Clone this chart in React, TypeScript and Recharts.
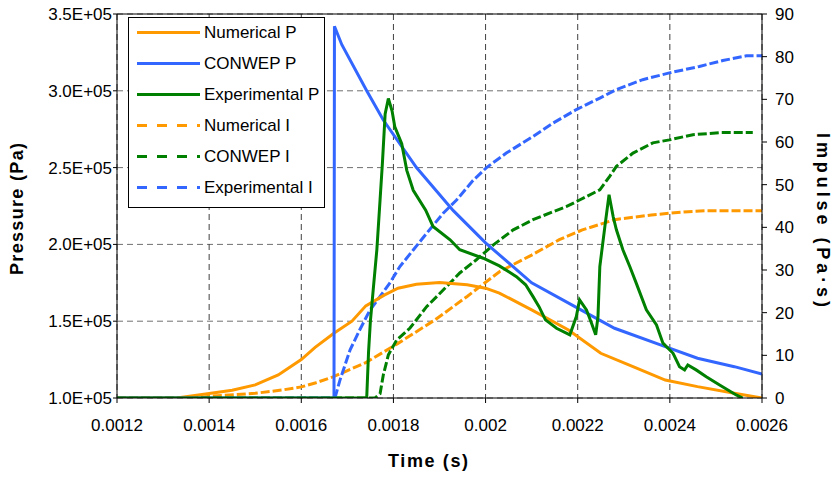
import { LineChart, Line, XAxis, YAxis, CartesianGrid, Legend, ReferenceLine } from "recharts";

const ORANGE = "#FF9900";
const BLUE = "#3366FF";
const GREEN = "#008000";
const FONT = "'Liberation Sans', Arial, sans-serif";

const timeTicks = [0.0012, 0.0014, 0.0016, 0.0018, 0.002, 0.0022, 0.0024, 0.0026];
const pressureTicks = [100000, 150000, 200000, 250000, 300000, 350000];
const impulseTicks = [0, 10, 20, 30, 40, 50, 60, 70, 80, 90];

// [time (s), pressure (Pa)]
const numericalP: [number, number][] = [
  [0.0012, 1.0e5], [0.00133, 1.0e5], [0.0014, 1.03e5], [0.00145, 1.05e5], [0.0015, 1.085e5],
  [0.00155, 1.15e5], [0.0016, 1.25e5], [0.00163, 1.33e5], [0.00167, 1.42e5], [0.00171, 1.5e5],
  [0.00174, 1.6e5], [0.00178, 1.67e5], [0.00181, 1.715e5], [0.00185, 1.74e5], [0.0019, 1.752e5],
  [0.00196, 1.737e5], [0.002, 1.715e5], [0.00203, 1.683e5], [0.0021, 1.574e5], [0.00218, 1.443e5],
  [0.00225, 1.291e5], [0.00232, 1.204e5], [0.00239, 1.117e5], [0.00246, 1.074e5], [0.00254, 1.031e5],
  [0.0026, 1.0e5],
];

const conwepP: [number, number][] = [
  [0.0012, 1.0e5], [0.001671, 1.0e5], [0.001672, 3.42e5], [0.001688, 3.3e5], [0.001742, 3.0e5],
  [0.001778, 2.81e5], [0.00185, 2.5e5], [0.00193, 2.22e5], [0.002, 2.01e5], [0.0021, 1.75e5],
  [0.0022, 1.585e5], [0.00228, 1.454e5], [0.00239, 1.334e5], [0.00246, 1.259e5], [0.00254, 1.204e5],
  [0.0026, 1.156e5],
];

const experimentalP: [number, number][] = [
  [0.0012, 1.0e5], [0.001742, 1.0e5], [0.001746, 1.3e5], [0.00175, 1.5e5], [0.001756, 1.7e5],
  [0.001764, 1.965e5], [0.001771, 2.29e5], [0.001776, 2.525e5], [0.001782, 2.85e5], [0.001789, 2.95e5],
  [0.001797, 2.87e5], [0.001803, 2.765e5], [0.001818, 2.656e5], [0.001829, 2.482e5], [0.001843, 2.352e5],
  [0.00187, 2.223e5], [0.001886, 2.117e5], [0.001923, 2.03e5], [0.001944, 1.965e5], [0.001995, 1.91e5],
  [0.00203, 1.86e5], [0.002067, 1.79e5], [0.002087, 1.737e5], [0.002103, 1.66e5], [0.002116, 1.595e5],
  [0.00213, 1.509e5], [0.002154, 1.454e5], [0.002183, 1.411e5], [0.002197, 1.53e5], [0.002204, 1.639e5],
  [0.002219, 1.574e5], [0.00223, 1.487e5], [0.002239, 1.411e5], [0.002244, 1.53e5], [0.002248, 1.856e5],
  [0.002259, 2.117e5], [0.002268, 2.323e5], [0.002277, 2.18e5], [0.002284, 2.095e5], [0.002298, 1.965e5],
  [0.002313, 1.856e5], [0.002327, 1.748e5], [0.002349, 1.574e5], [0.002371, 1.476e5], [0.002385, 1.357e5],
  [0.002407, 1.291e5], [0.002421, 1.204e5], [0.002432, 1.183e5], [0.002439, 1.215e5], [0.002457, 1.183e5],
  [0.002479, 1.139e5], [0.002508, 1.085e5], [0.002544, 1.02e5], [0.002558, 1.0e5],
];

// [time (s), impulse (Pa·s)]
const numericalI: [number, number][] = [
  [0.0012, 0], [0.00138, 0], [0.0014, 0.4], [0.0015, 1.1], [0.00156, 1.9], [0.0016, 2.6],
  [0.00163, 3.5], [0.00167, 5.0], [0.00174, 8.3], [0.00181, 12.8], [0.00189, 18.3], [0.00196, 23.8],
  [0.00203, 29.6], [0.0021, 33.5], [0.00216, 37.1], [0.00221, 39.4], [0.00228, 41.8], [0.00236, 42.9],
  [0.00243, 43.6], [0.00248, 43.9], [0.0026, 43.9],
];

const conwepI: [number, number][] = [
  [0.0012, 0], [0.00176, 0], [0.001771, 1.0], [0.001778, 5.4], [0.001789, 10.1], [0.001807, 13.6],
  [0.001836, 16.4], [0.001872, 21.4], [0.001908, 25.3], [0.001944, 29.3], [0.00198, 32.4],
  [0.002017, 35.9], [0.00206, 39.4], [0.002103, 41.8], [0.002176, 44.9], [0.002204, 46.4],
  [0.002248, 48.8], [0.002269, 51.9], [0.002284, 54.3], [0.00232, 57.4], [0.002363, 59.8],
  [0.002399, 60.5], [0.00245, 61.7], [0.002508, 62.2], [0.00258, 62.2],
];

const experimentalI: [number, number][] = [
  [0.001673, 0], [0.001684, 4.2], [0.001706, 11.3], [0.001727, 16.0], [0.001749, 20.6],
  [0.001771, 23.8], [0.001792, 26.9], [0.001814, 30.8], [0.001843, 34.7], [0.001872, 38.6],
  [0.001908, 43.3], [0.001937, 46.4], [0.001973, 51.0], [0.002002, 54.0], [0.002045, 57.4],
  [0.002103, 61.3], [0.002146, 64.4], [0.002197, 67.6], [0.002248, 70.3], [0.002284, 72.3],
  [0.002341, 74.6], [0.002399, 76.2], [0.002464, 77.7], [0.002515, 79.1], [0.002566, 80.2],
  [0.0026, 80.2],
];

const toPoints = (pts: [number, number][]) => pts.map(([t, v]) => ({ t, v }));

// drawing order: impulse curves underneath, pressure curves on top
const series = [
  { name: "Numerical I", data: numericalI, color: ORANGE, axis: "impulse", dashed: true },
  { name: "CONWEP I", data: conwepI, color: GREEN, axis: "impulse", dashed: true },
  { name: "Experimental I", data: experimentalI, color: BLUE, axis: "impulse", dashed: true },
  { name: "Numerical P", data: numericalP, color: ORANGE, axis: "pressure", dashed: false },
  { name: "CONWEP P", data: conwepP, color: BLUE, axis: "pressure", dashed: false },
  { name: "Experimental P", data: experimentalP, color: GREEN, axis: "pressure", dashed: false },
];

const legendOrder = ["Numerical P", "CONWEP P", "Experimental P", "Numerical I", "CONWEP I", "Experimental I"];

function LegendBox() {
  const items = legendOrder.map((n) => series.find((s) => s.name === n)!);
  return (
    <svg width={197} height={191} style={{ display: "block" }}>
      <rect x={0.5} y={0.5} width={196} height={190} fill="#fff" stroke="#000" />
      {items.map((item, i) => {
        const y = 15.5 + i * 31;
        return (
          <g key={item.name}>
            <line x1={9} x2={72} y1={y} y2={y} stroke={item.color} strokeWidth={3}
              strokeDasharray={item.dashed ? "10 10" : undefined} />
            <text x={76} y={y + 5.5} fontSize={17} fontFamily={FONT} fill="#000">{item.name}</text>
          </g>
        );
      })}
    </svg>
  );
}

const titleStyle = { fontSize: 18, fontWeight: 700, fontFamily: FONT, fill: "#000" };

function PressureTitle() {
  return (
    <text x={23} y={209} transform="rotate(-90 23 209)" textAnchor="middle" textLength={132}
      lengthAdjust="spacing" style={titleStyle}>Pressure (Pa)</text>
  );
}

function ImpulseTitle() {
  return (
    <text x={817} y={220} transform="rotate(90 817 220)" textAnchor="middle" textLength={174}
      lengthAdjust="spacing" style={titleStyle}>Impulse (Pa·s)</text>
  );
}

function TimeTitle() {
  return (
    <text x={428} y={467} textAnchor="middle" textLength={80} lengthAdjust="spacing"
      style={titleStyle}>Time (s)</text>
  );
}

const tickStyle = { fontSize: 17, fill: "#000", fontFamily: FONT };

export default function App() {
  return (
    <div style={{ position: "absolute", left: 0, top: 0, background: "#fff", fontFamily: FONT }}>
      <LineChart width={832} height={477} margin={{ top: 14, right: 0, bottom: 0, left: 0 }}>
        <CartesianGrid yAxisId="pressure" vertical={false} stroke="#707070" strokeDasharray="6 4" />
        <CartesianGrid yAxisId="pressure" horizontal={false} stroke="#404040" strokeDasharray="6 4" />
        <XAxis dataKey="t" type="number" domain={[0.0012, 0.0026]} ticks={timeTicks}
          allowDataOverflow height={79} tickSize={5} tickMargin={16}
          tickFormatter={(v: number) => String(+v.toFixed(4))}
          tick={tickStyle} stroke="#000" label={<TimeTitle />} />
        <YAxis yAxisId="pressure" orientation="left" domain={[100000, 350000]} ticks={pressureTicks}
          allowDataOverflow width={117} tickSize={4} tickMargin={1}
          tickFormatter={(v: number) => `${(v / 1e5).toFixed(1)}E+05`}
          tick={tickStyle} stroke="#000" label={<PressureTitle />} />
        <YAxis yAxisId="impulse" orientation="right" domain={[0, 90]} ticks={impulseTicks}
          allowDataOverflow width={70} tickSize={5} tickMargin={8}
          tick={tickStyle} stroke="#000" label={<ImpulseTitle />} />
        <ReferenceLine yAxisId="pressure" y={350000} stroke="#000" strokeWidth={1} />
        {series.map((s) => (
          <Line key={s.name} name={s.name} yAxisId={s.axis} data={toPoints(s.data)} dataKey="v"
            type="linear" stroke={s.color} strokeWidth={3} dot={false} activeDot={false}
            strokeDasharray={s.dashed ? "9 3" : undefined} isAnimationActive={false} />
        ))}
        <Legend layout="vertical" align="center" verticalAlign="middle" content={<LegendBox />}
          wrapperStyle={{ position: "absolute", left: 128, top: 17, width: 197, height: 191 }} />
      </LineChart>
    </div>
  );
}
